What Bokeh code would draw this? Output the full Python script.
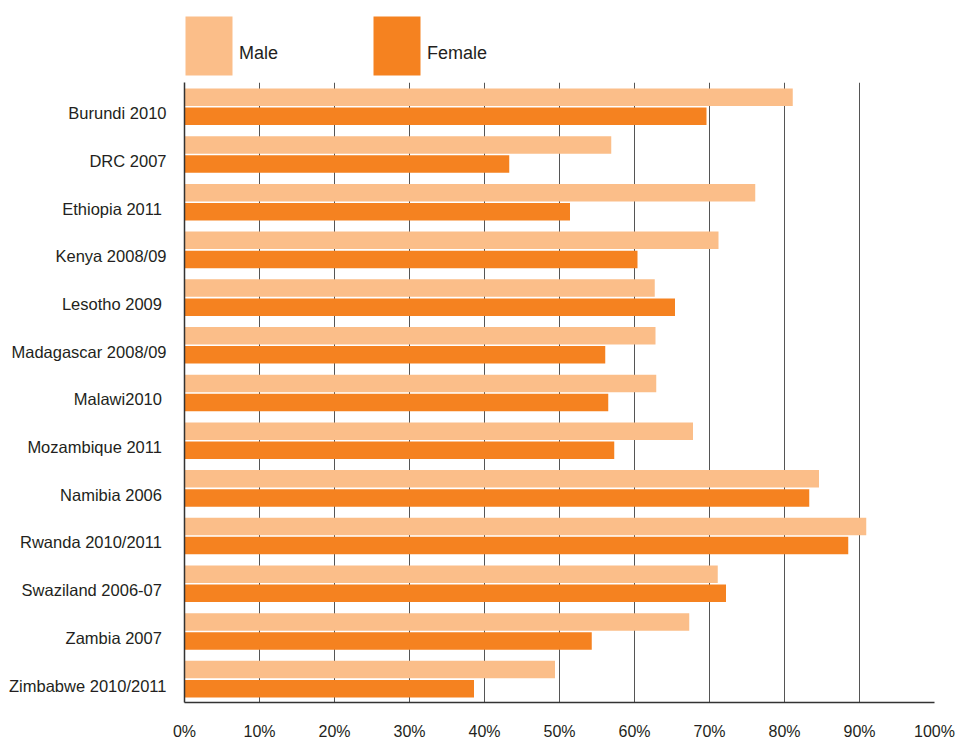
from bokeh.plotting import figure
from bokeh.layouts import column
from bokeh.models import (Range1d, FixedTicker, PrintfTickFormatter,
                          ColumnDataSource)
from bokeh.embed import file_html
from bokeh.resources import INLINE

# ---- data ----
countries = ["Burundi 2010", "DRC 2007", "Ethiopia 2011 ", "Kenya 2008/09",
             "Lesotho 2009 ", "Madagascar 2008/09", "Malawi2010 ",
             "Mozambique 2011 ", "Namibia 2006 ", "Rwanda 2010/2011 ",
             "Swaziland 2006-07 ", "Zambia 2007 ", "Zimbabwe 2010/2011"]
male = [81.1, 56.9, 76.1, 71.2, 62.7, 62.8, 62.9, 67.8, 84.6, 90.9, 71.1, 67.3, 49.4]
female = [69.6, 43.3, 51.4, 60.4, 65.4, 56.1, 56.5, 57.3, 83.3, 88.5, 72.2, 54.3, 38.6]
x_ticks = [0, 10, 20, 30, 40, 50, 60, 70, 80, 90, 100]
series_names = ["Male", "Female"]

MALE_COLOR = "#FBBE89"
FEMALE_COLOR = "#F58220"
series_colors = [MALE_COLOR, FEMALE_COLOR]
TEXT_COLOR = "#231F20"
FONT = "Liberation Sans"

W = 957
LEG_H = 82
MAIN_H = 742 - LEG_H
BOTTOM, LEFT, RIGHT = 40, 184, 23

# ---------------- legend strip (layout in screen pixels) ----------------
leg_left = [185, 373]          # swatch left edges (px)
SW_W, SW_TOP, SW_BOT = 47, 16, 75
leg = figure(width=W, height=LEG_H, output_backend="svg", toolbar_location=None,
             x_range=Range1d(LEFT, W - RIGHT), y_range=Range1d(LEG_H, 0),
             x_axis_type=None, y_axis_type=None, min_border=0,
             min_border_left=LEFT, min_border_right=RIGHT)
leg.outline_line_color = None
leg.background_fill_color = "white"
leg.border_fill_color = "white"
leg_src = ColumnDataSource(dict(
    left=leg_left, right=[x + SW_W for x in leg_left],
    top=[SW_TOP] * 2, bottom=[SW_BOT] * 2, color=series_colors,
    tx=[x + SW_W + 6.5 for x in leg_left], ty=[52.5] * 2, name=series_names))
leg.quad(left="left", right="right", top="top", bottom="bottom",
         fill_color="color", line_color=None, source=leg_src)
leg.text(x="tx", y="ty", text="name", source=leg_src,
         text_font={"value": FONT}, text_font_size="18px",
         text_color=TEXT_COLOR, text_baseline="middle", text_align="left")

# ---------------- main chart ----------------
n = len(countries)
pos = [n - 1 - i for i in range(n)]          # Burundi at top
male_y = [p_ + 0.19 for p_ in pos]
female_y = [p_ - 0.21 for p_ in pos]
label_y = [p_ - 0.145 for p_ in pos]

src = ColumnDataSource(dict(country=countries, male=male, female=female,
                            male_y=male_y, female_y=female_y))

p = figure(width=W, height=MAIN_H, output_backend="svg", toolbar_location=None,
           x_range=Range1d(0, 100), y_range=Range1d(-0.5, n - 0.5),
           min_border_left=LEFT, min_border_right=RIGHT, min_border_top=0,
           min_border_bottom=BOTTOM)
p.outline_line_color = None
p.background_fill_color = "white"
p.border_fill_color = "white"

p.hbar(y="male_y", right="male", left=0, height=0.367, source=src,
       fill_color=MALE_COLOR, line_color=None)
p.hbar(y="female_y", right="female", left=0, height=0.367, source=src,
       fill_color=FEMALE_COLOR, line_color=None)

# x axis
p.xaxis.ticker = FixedTicker(ticks=x_ticks)
p.xaxis.formatter = PrintfTickFormatter(format="%d%%")
p.xaxis.major_tick_line_color = None
p.xaxis.minor_tick_line_color = None
p.xaxis.axis_line_color = "#333333"
p.xaxis.axis_line_width = 1.5
p.xaxis.major_label_standoff = 14
p.xaxis.major_label_text_font = FONT
p.xaxis.major_label_text_font_size = "16px"
p.xaxis.major_label_text_color = TEXT_COLOR

# y axis
p.yaxis.ticker = FixedTicker(ticks=label_y)
p.yaxis.major_label_overrides = {ly: c for ly, c in zip(label_y, countries)}
p.yaxis.major_tick_line_color = None
p.yaxis.minor_tick_line_color = None
p.yaxis.axis_line_color = "#333333"
p.yaxis.axis_line_width = 1.5
p.yaxis.major_label_standoff = 12
p.yaxis.major_label_text_font = FONT
p.yaxis.major_label_text_font_size = "16.5px"
p.yaxis.major_label_text_color = TEXT_COLOR

p.xgrid.ticker = FixedTicker(ticks=x_ticks)
p.xgrid.grid_line_color = "#555555"
p.xgrid.grid_line_width = 1
p.ygrid.grid_line_color = None

layout = column(leg, p, spacing=0)
open("out.html", "w").write(file_html(layout, INLINE))
